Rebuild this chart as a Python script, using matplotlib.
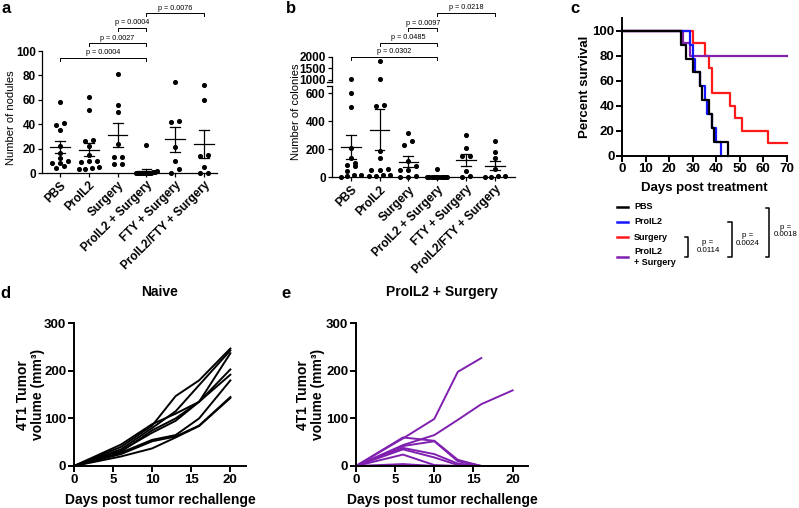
import numpy as np
import matplotlib
matplotlib.use('Agg')
import matplotlib.pyplot as plt
from matplotlib.lines import Line2D
from matplotlib.transforms import blended_transform_factory

plt.rcParams['font.family'] = ['Liberation Sans', 'DejaVu Sans']

# ---- data -------------------------------------------------------------
groups = ['PBS', 'ProIL2', 'Surgery', 'ProIL2 + Surgery', 'FTY + Surgery', 'ProIL2/FTY + Surgery']

nod_pbs = [58, 41, 39, 35, 22, 16, 12, 8, 4, 8, 10, 6]
nod_proil2 = [62, 52, 27, 26, 22, 15, 10, 10, 9, 3, 5, 3, 4]
nod_surg = [81, 56, 50, 24, 13, 13, 7, 7]
nod_proil2_surg = [23, 2, 1, 1, 0, 0, 0, 0, 0, 0, 0, 0, 0, 0]
nod_fty_surg = [75, 43, 42, 21, 10, 3, 0]
nod_proil2_fty_surg = [72, 60, 15, 14, 5, 0, 0]

col_pbs = [1030, 600, 505, 210, 140, 100, 85, 80, 48, 20, 15, 10, 2]
col_proil2 = [1800, 1050, 520, 510, 190, 140, 60, 50, 50, 20, 15, 10, 10]
col_surg = [320, 260, 230, 115, 80, 50, 50, 10, 5, 2]
col_proil2_surg = [60, 0, 0, 0, 0, 0, 0, 0, 0, 0, 0]
col_fty_surg = [305, 210, 152, 152, 43, 10, 2]
col_proil2_fty_surg = [260, 180, 140, 60, 10, 10, 5, 2]

pvals_a = [(0, 3, 'p = 0.0004'), (1, 3, 'p = 0.0027'), (2, 3, 'p = 0.0004'), (3, 5, 'p = 0.0076')]
pvals_b = [(0, 3, 'p = 0.0302'), (1, 3, 'p = 0.0485'), (2, 3, 'p = 0.0097'), (3, 5, 'p = 0.0218')]

# survival (Kaplan-Meier steps)
surv_labels = ['PBS', 'ProIL2', 'Surgery', 'ProIL2\n+ Surgery']
surv_colors = ['black', '#1515ff', '#ff1a1a', '#8020b0']
pbs_days = [0, 25, 27, 30, 33, 34, 37, 38, 39, 45]
pbs_surv = [100, 88.9, 77.8, 66.7, 55.6, 44.4, 33.3, 22.2, 11.1, 0]
proil2_days = [0, 29, 30, 31, 33, 35, 36, 38, 40, 42]
proil2_surv = [100, 88.9, 77.8, 66.7, 55.6, 44.4, 33.3, 22.2, 11.1, 0]
surg_days = [0, 30, 35, 37, 38, 46, 48, 51, 62, 70]
surg_surv = [100, 90, 80, 70, 50, 40, 30, 20, 10, 10]
ps_days = [0, 26, 29, 70]
ps_surv = [100, 90, 80, 80]
surv_p = ['p =\n0.0114', 'p =\n0.0024', 'p =\n0.0018']

# tumor rechallenge growth
rech_days = [0, 6, 10, 13, 16, 20]
naive_vol = [
    [0, 40, 85, 147, 180, 247],
    [0, 35, 80, 115, 170, 243],
    [0, 30, 75, 100, 135, 237],
    [0, 45, 88, 110, 135, 203],
    [0, 32, 70, 95, 135, 192],
    [0, 28, 55, 65, 100, 180],
    [0, 25, 52, 62, 85, 145],
    [0, 20, 37, 60, 84, 143],
]
ps_vol = [
    [0, 58, 99, 198, 227, np.nan],
    [0, 44, 65, 97, 130, 159],
    [0, 60, 53, 13, 0, 0],
    [0, 42, 52, 10, 0, 0],
    [0, 38, 25, 5, 0, 0],
    [0, 35, 18, 2, 0, 0],
    [0, 24, 2, 0, 0, 0],
    [0, 4, 0, 0, 0, 0],
]

# ---- helpers ----------------------------------------------------------
W, H = 799, 508
fig = plt.figure(figsize=(W / 100, H / 100), dpi=100)


def px_axes(x0, ytop, x1, ybot):
    return fig.add_axes([x0 / W, 1 - ybot / H, (x1 - x0) / W, (ybot - ytop) / H])


def style(ax, lw=0.9, size=8.5, tl=3):
    for s in ['top', 'right']:
        ax.spines[s].set_visible(False)
    for s in ['left', 'bottom']:
        ax.spines[s].set_linewidth(lw)
    ax.tick_params(width=lw, length=tl, labelsize=size, pad=1.5)
    for lab in ax.get_xticklabels() + ax.get_yticklabels():
        lab.set_fontweight('bold')


def swarm(vals, thresh, step, maxw):
    vals = np.asarray(vals, float)
    order = np.argsort(vals)
    offs = np.zeros(len(vals))
    rows, cur = [], [order[0]]
    for i in order[1:]:
        if vals[i] - vals[cur[0]] < thresh:
            cur.append(i)
        else:
            rows.append(cur)
            cur = [i]
    rows.append(cur)
    for r in rows:
        n = len(r)
        st = min(step, maxw / (n - 1)) if n > 1 else 0
        for k, i in enumerate(r):
            offs[i] = (k - (n - 1) / 2) * st
    return offs


def mean_sem(ax, x, vals):
    v = np.asarray(vals, float)
    m = v.mean()
    se = v.std(ddof=1) / np.sqrt(len(v))
    ax.plot([x - 0.34, x + 0.34], [m, m], color='k', lw=0.9)
    ax.plot([x, x], [m - se, m + se], color='k', lw=0.9)
    for y in (m - se, m + se):
        ax.plot([x - 0.17, x + 0.17], [y, y], color='k', lw=0.9)


def bracket(ax, x0, x1, ypx, label, drop=3):
    tr = blended_transform_factory(ax.transData, fig.transFigure)
    y = 1 - ypx / H
    yd = 1 - (ypx + drop) / H
    ax.plot([x0, x0, x1, x1], [yd, y, y, yd], transform=tr, clip_on=False, color='k', lw=0.7)
    ax.text((x0 + x1) / 2, 1 - (ypx - 1.5) / H, label, transform=tr, ha='center', va='bottom',
            fontsize=5.2)


def cat_labels(ax):
    ax.set_xticks(range(len(groups)))
    ax.set_xticklabels(groups, rotation=45, ha='right', rotation_mode='anchor',
                       fontsize=7.5, fontweight='bold')


# ---- panel a ----------------------------------------------------------
nodules = [nod_pbs, nod_proil2, nod_surg, nod_proil2_surg, nod_fty_surg, nod_proil2_fty_surg]
axa = px_axes(42, 51, 217, 173)
for i, vals in enumerate(nodules):
    off = swarm(vals, 4, 0.28, 0.7)
    axa.scatter(i + off, vals, s=7, color='k', zorder=3, clip_on=False)
    mean_sem(axa, i, vals)
axa.set_xlim(-0.625, 5.45)
axa.set_ylim(0, 100)
axa.set_yticks([0, 20, 40, 60, 80, 100])
cat_labels(axa)
axa.set_ylabel('Number of nodules', fontsize=8)
axa.yaxis.set_label_coords(-0.15, 0.45)
style(axa)
for (x0, x1, lab), ypx in zip(pvals_a, [58, 43, 28, 13]):
    bracket(axa, x0, x1, ypx, lab)

# ---- panel b (broken axis) -------------------------------------------
colonies = [col_pbs, col_proil2, col_surg, col_proil2_surg, col_fty_surg, col_proil2_fty_surg]
axb_hi = px_axes(332, 56.7, 515, 82.3)
axb = px_axes(332, 86.3, 515, 177.3)
for i, vals in enumerate(colonies):
    off = swarm(vals, 36, 0.28, 0.7)
    v = np.asarray(vals, float)
    lo = v < 900
    axb.scatter(i + off[lo], v[lo], s=7, color='k', zorder=3, clip_on=False)
    axb_hi.scatter(i + off[~lo], v[~lo], s=7, color='k', zorder=3, clip_on=False)
    mean_sem(axb, i, vals)
for ax in (axb, axb_hi):
    ax.set_xlim(-0.65, 5.7)
axb.set_ylim(0, 650)
axb.set_yticks([0, 200, 400, 600])
axb_hi.set_ylim(900, 2000)
axb_hi.set_yticks([1000, 1500, 2000])
cat_labels(axb)
axb_hi.set_xticks([])
axb_hi.spines['bottom'].set_visible(False)
axb.set_ylabel('Number of colonies', fontsize=8)
axb.yaxis.set_label_coords(-0.17, 0.72)
style(axb)
style(axb_hi)
# break marks on the y axis
for ax, yf in ((axb, 1.0), (axb_hi, 0.0)):
    ax.plot([-0.025, 0.0], [yf, yf], transform=ax.transAxes, color='k', lw=0.9, clip_on=False)
for (x0, x1, lab), ypx in zip(pvals_b, [56.7, 42.7, 28.3, 12.7]):
    bracket(axb_hi, x0, x1, ypx, lab)

# ---- panel c ----------------------------------------------------------
axc = px_axes(622.3, 18.3, 786.7, 155.7)
curves = [(surg_days, surg_surv), (ps_days, ps_surv), (proil2_days, proil2_surv), (pbs_days, pbs_surv)]
curve_cols = [surv_colors[2], surv_colors[3], surv_colors[1], surv_colors[0]]
for (d, s), c in zip(curves, curve_cols):
    axc.step(d, s, where='post', color=c, lw=1.6, clip_on=False)
axc.set_xlim(0, 70)
axc.set_ylim(0, 110)
axc.set_xticks(range(0, 71, 10))
axc.set_yticks(range(0, 101, 20))
axc.set_xlabel('Days post treatment', fontsize=9.5, fontweight='bold')
axc.set_ylabel('Percent survival', fontsize=9.5, fontweight='bold')
axc.xaxis.set_label_coords(0.5, -0.19)
axc.yaxis.set_label_coords(-0.19, 0.5)
style(axc, lw=1.4, size=9.5, tl=4)

# legend + brackets
leg_y = [207, 222, 237, 257]
for lab, c, y in zip(surv_labels, surv_colors, leg_y):
    fig.add_artist(Line2D([617 / W, 628 / W], [1 - y / H, 1 - y / H], color=c, lw=1.8))
    fig.text(634 / W, 1 - y / H, lab, fontsize=6.5, fontweight='bold', va='center', ha='left',
             linespacing=1.25)
for lab, xb, ytop, tx, ty in zip(surv_p, [688, 731.7, 769], [237, 222.3, 208.3],
                                 [708, 748, 786], [246.7, 239.3, 231]):
    fig.add_artist(Line2D([(xb - 3.5) / W, xb / W, xb / W, (xb - 3.5) / W],
                          [1 - ytop / H, 1 - ytop / H, 1 - 256.7 / H, 1 - 256.7 / H],
                          color='k', lw=1.1))
    fig.text(tx / W, 1 - ty / H, lab, fontsize=5.7, ha='center', va='center',
             multialignment='center', linespacing=1.15)

# ---- panels d, e ------------------------------------------------------
def growth(ax, vols, color, title):
    for v in vols:
        ax.plot(rech_days, v, color=color, lw=1.4, clip_on=False)
    ax.set_xlim(0, 22)
    ax.set_ylim(0, 300)
    ax.set_xticks([0, 5, 10, 15, 20])
    ax.set_yticks([0, 100, 200, 300])
    ax.set_xlabel('Days post tumor rechallenge', fontsize=10, fontweight='bold')
    ax.set_ylabel('4T1 Tumor\nvolume (mm³)', fontsize=10, fontweight='bold', linespacing=1.1)
    ax.set_title(title, fontsize=10, fontweight='bold', y=1.13)
    ax.xaxis.set_label_coords(0.5, -0.19)
    style(ax, lw=1.4, size=9.5, tl=4)


axd = px_axes(74, 323.3, 246, 466)
growth(axd, naive_vol, 'black', 'Naive')
axd.yaxis.set_label_coords(-0.17, 0.5)
axe = px_axes(356, 323.3, 528.3, 466)
growth(axe, ps_vol, '#8020b0', 'ProIL2 + Surgery')
axe.yaxis.set_label_coords(-0.18, 0.5)

# panel letters
for t, x, y in [('a', 1, 13.3), ('b', 286, 13.3), ('c', 570, 12.7), ('d', 0, 298), ('e', 281, 297.7)]:
    fig.text(x / W, 1 - y / H, t, fontsize=12, fontweight='bold', va='baseline', ha='left')

fig.savefig('out.png', dpi=100)
